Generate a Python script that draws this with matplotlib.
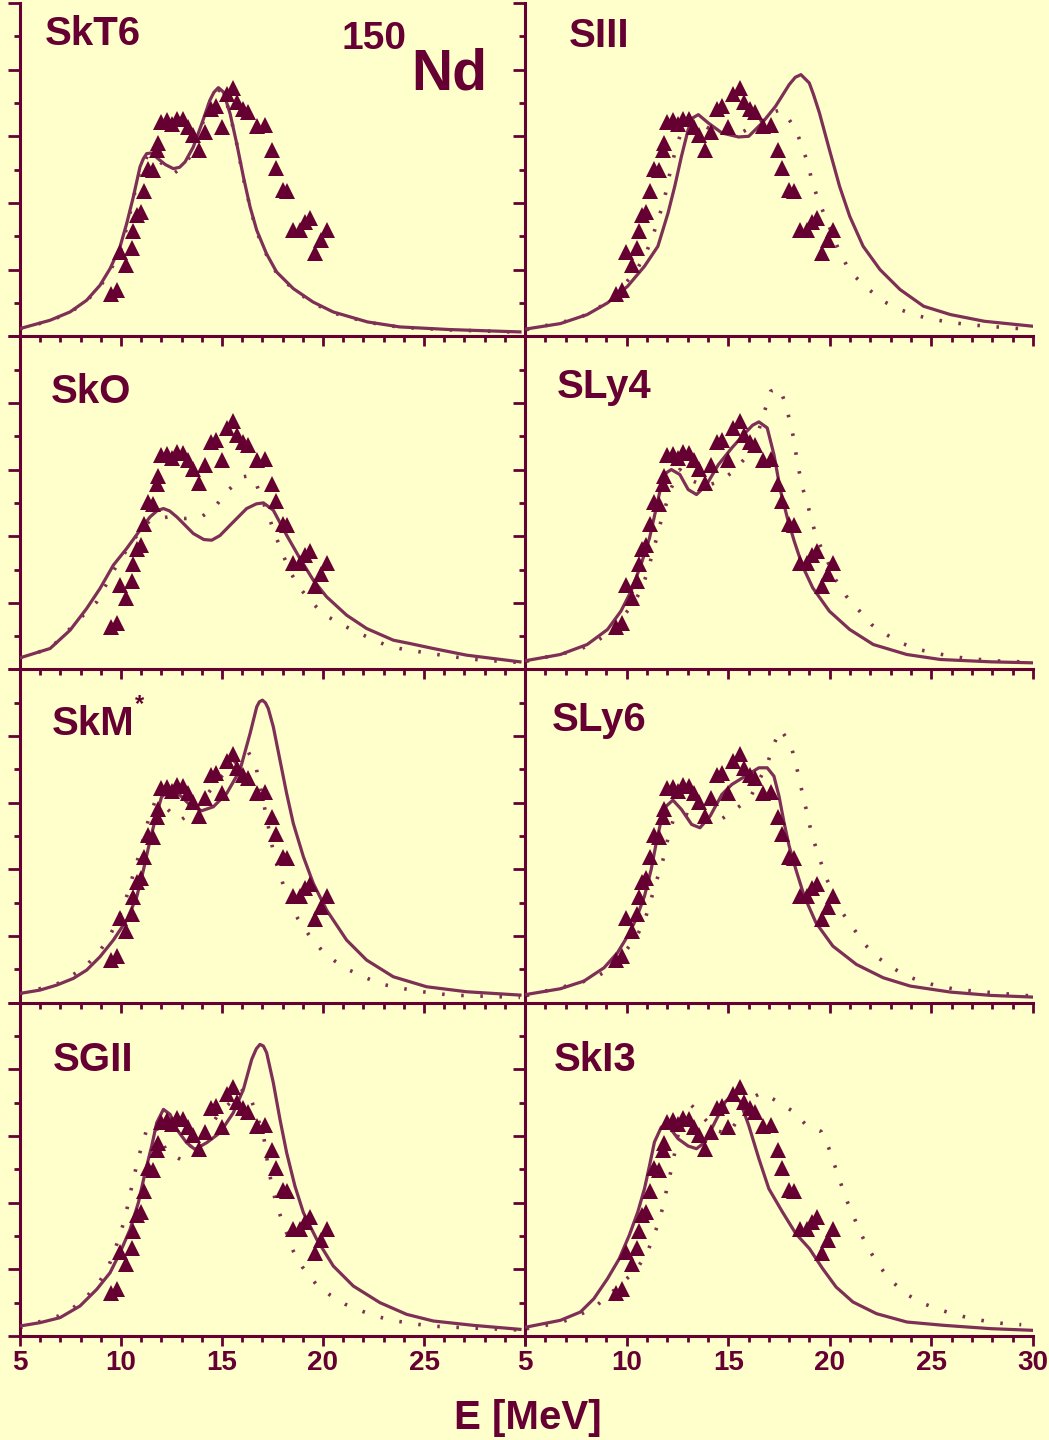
import numpy as np
import matplotlib
matplotlib.use('Agg')
import matplotlib.pyplot as plt
from matplotlib.ticker import MultipleLocator

plt.rcParams['font.family'] = ['Liberation Sans', 'DejaVu Sans']
plt.rcParams['font.weight'] = 'bold'

BG = '#ffffcc'
DARK = '#660033'
LINE = '#7d2f55'

# experiment (triangles), same in all panels
exp_e = [9.50, 9.79, 10.25, 9.95, 10.53, 10.61, 10.78, 10.97, 11.14, 11.35, 11.57, 11.77, 11.85,
         11.98, 12.26, 12.51, 12.79, 13.05, 13.33, 13.55, 13.86, 14.16, 14.44, 14.70, 14.98,
         15.23, 15.56, 15.76, 16.06, 16.30, 16.72, 17.13, 17.46, 17.67, 18.00, 18.23, 18.53,
         18.86, 19.11, 19.36, 19.60, 19.90, 20.18]
exp_v = [0.128, 0.14, 0.215, 0.253, 0.265, 0.316, 0.363, 0.373, 0.436, 0.503, 0.498, 0.558, 0.58,
         0.643, 0.648, 0.636, 0.653, 0.651, 0.628, 0.603, 0.56, 0.613, 0.683, 0.69, 0.628,
         0.726, 0.746, 0.703, 0.683, 0.673, 0.63, 0.633, 0.558, 0.505, 0.438, 0.435, 0.32,
         0.32, 0.343, 0.356, 0.25, 0.288, 0.32]

# SkT6
skt6_s_e = [5.0, 6.49, 7.48, 8.3, 8.96, 9.46, 9.95, 10.28, 10.61, 10.94, 11.1, 11.27, 11.5, 11.93,
            12.2, 12.59, 12.9, 13.17, 13.58, 14.0, 14.4, 14.6, 14.82, 15.07, 15.4, 15.73, 16.06,
            16.39, 16.72, 17.2, 17.7, 18.53, 19.5, 20.5, 22.2, 23.8, 26.3, 29.75]
skt6_s_v = [0.023, 0.048, 0.073, 0.108, 0.153, 0.203, 0.268, 0.338, 0.418, 0.508, 0.532, 0.548,
            0.55, 0.528, 0.515, 0.503, 0.507, 0.523, 0.568, 0.638, 0.708, 0.732, 0.746, 0.733,
            0.668, 0.578, 0.478, 0.388, 0.318, 0.248, 0.193, 0.143, 0.103, 0.073, 0.043, 0.028,
            0.02, 0.013]
skt6_d_e = [5.0, 6.5, 7.5, 8.3, 9.0, 9.5, 10.0, 10.3, 10.6, 10.95, 11.3, 11.5, 11.95, 12.6, 13.2,
            13.6, 14.0, 14.4, 14.8, 15.1, 15.4, 15.75, 16.05, 16.4, 16.7, 17.2, 17.7, 18.5, 19.5,
            20.5, 22.2, 23.8, 26.3, 29.75]
skt6_d_v = [0.022, 0.047, 0.072, 0.106, 0.152, 0.2, 0.262, 0.33, 0.41, 0.5, 0.54, 0.545, 0.522,
            0.488, 0.515, 0.562, 0.632, 0.705, 0.74, 0.728, 0.665, 0.572, 0.475, 0.385, 0.316,
            0.245, 0.19, 0.142, 0.1, 0.07, 0.042, 0.027, 0.019, 0.012]

# SIII
siii_s_e = [5.08, 6.74, 8.06, 9.06, 10.05, 10.88, 11.54, 12.04, 12.37, 12.7, 13.03, 13.25, 13.53,
            14.02, 14.69, 15.51, 16.01, 16.67, 17.33, 18.0, 18.3, 18.58, 18.99, 19.2, 19.49,
            19.98, 20.48, 20.98, 21.64, 22.47, 23.46, 24.62, 25.94, 27.6, 30.0]
siii_s_v = [0.022, 0.038, 0.065, 0.1, 0.15, 0.21, 0.27, 0.37, 0.45, 0.54, 0.62, 0.655, 0.665,
            0.64, 0.61, 0.598, 0.6, 0.64, 0.69, 0.755, 0.777, 0.785, 0.76, 0.725, 0.67,
            0.56, 0.45, 0.36, 0.27, 0.2, 0.14, 0.09, 0.065, 0.045, 0.03]
siii_d_e = [5.08, 7.57, 8.48, 9.22, 10.46, 10.96, 11.29, 11.54, 11.82, 11.99, 12.17, 12.37, 12.62,
            13.03, 13.53, 14.02, 14.69, 15.6, 16.42, 17.09, 17.6, 17.83, 18.33, 18.66, 18.94,
            19.12, 19.4, 19.73, 20.4, 20.81, 21.22, 21.97, 22.63, 23.46, 24.29, 25.12, 25.94,
            26.77, 28.43, 30.0]
siii_d_v = [0.02, 0.052, 0.08, 0.11, 0.195, 0.25, 0.3, 0.35, 0.4, 0.45, 0.5, 0.55, 0.6,
            0.64, 0.64, 0.625, 0.61, 0.61, 0.635, 0.67, 0.68, 0.665, 0.62, 0.565, 0.515,
            0.465, 0.415, 0.365, 0.265, 0.215, 0.18, 0.138, 0.105, 0.08, 0.062, 0.05, 0.042,
            0.035, 0.027, 0.02]

# SkO
sko_s_e = [5.0, 6.49, 7.48, 8.3, 8.96, 9.62, 10.28, 10.94, 11.44, 11.8, 12.1, 12.4, 12.76, 13.58,
           14.1, 14.49, 14.9, 15.4, 16.22, 16.7, 17.05, 17.54, 18.2, 18.86, 19.52, 20.18, 21.17,
           22.16, 23.48, 24.3, 25.46, 27.11, 29.75]
sko_s_v = [0.035, 0.063, 0.118, 0.183, 0.243, 0.313, 0.363, 0.418, 0.458, 0.477, 0.483, 0.476,
           0.458, 0.408, 0.39, 0.388, 0.402, 0.433, 0.483, 0.497, 0.5, 0.478, 0.403, 0.333,
           0.268, 0.218, 0.163, 0.123, 0.088, 0.078, 0.063, 0.043, 0.023]
sko_d_e = [5.0, 6.49, 8.8, 9.7, 10.53, 11.44, 12.34, 13.17, 13.99, 14.65, 15.31, 16.02, 16.4,
           16.72, 17.38, 17.67, 18.0, 18.33, 18.81, 19.41, 20.1, 20.84, 21.62, 22.38, 23.12,
           23.94, 24.8, 25.66, 26.49, 27.36, 28.18, 29.75]
sko_d_v = [0.035, 0.063, 0.203, 0.303, 0.383, 0.448, 0.458, 0.453, 0.458, 0.488, 0.538, 0.578,
           0.582, 0.553, 0.448, 0.398, 0.348, 0.298, 0.248, 0.203, 0.163, 0.138, 0.113, 0.093,
           0.073, 0.061, 0.053, 0.045, 0.038, 0.031, 0.027, 0.021]

# SLy4
sly4_s_e = [5.08, 6.74, 8.06, 9.06, 9.72, 10.22, 10.71, 11.13, 11.46, 11.71, 11.95, 12.2, 12.62,
            13.03, 13.44, 13.94, 14.52, 15.18, 15.84, 16.2, 16.51, 16.92, 17.25, 17.58, 17.91,
            18.25, 18.66, 19.16, 19.98, 20.98, 22.14, 23.79, 25.45, 27.93, 30.0]
sly4_s_v = [0.027, 0.045, 0.075, 0.12, 0.175, 0.235, 0.315, 0.395, 0.485, 0.555, 0.59, 0.6,
            0.585, 0.54, 0.525, 0.555, 0.615, 0.665, 0.71, 0.733, 0.743, 0.725, 0.645, 0.535,
            0.455, 0.385, 0.31, 0.245, 0.175, 0.12, 0.075, 0.045, 0.03, 0.023, 0.02]
sly4_d_e = [5.08, 7.57, 8.39, 9.14, 10.38, 10.79, 11.09, 11.29, 11.51, 11.71, 12.2, 12.62, 13.28,
            13.86, 14.6, 15.22, 15.88, 16.34, 16.84, 17.09, 17.53, 17.83, 18.03, 18.2, 18.33,
            18.49, 18.66, 18.91, 19.12, 19.35, 19.74, 20.28, 20.81, 21.47, 22.05, 22.72, 23.49,
            24.37, 25.12, 25.94, 26.77, 28.43, 30.0]
sly4_d_v = [0.025, 0.057, 0.08, 0.11, 0.2, 0.25, 0.305, 0.355, 0.4, 0.45, 0.545, 0.6, 0.565,
            0.55, 0.565, 0.593, 0.637, 0.685, 0.785, 0.835, 0.845, 0.795, 0.745, 0.7, 0.65,
            0.595, 0.545, 0.495, 0.445, 0.395, 0.345, 0.27, 0.22, 0.175, 0.135, 0.107, 0.08,
            0.06, 0.05, 0.04, 0.033, 0.025, 0.022]

# SkM*
skm_s_e = [5.0, 5.99, 6.82, 7.64, 8.3, 8.96, 9.62, 10.28, 10.78, 11.11, 11.44, 11.77, 12.01, 12.43,
           12.92, 13.42, 13.99, 14.57, 15.23, 15.89, 16.39, 16.72, 16.85, 17.0, 17.15, 17.29,
           17.54, 17.87, 18.2, 18.53, 19.03, 19.52, 20.18, 21.17, 22.16, 23.48, 25.13, 27.11,
           29.75]
skm_s_v = [0.028, 0.038, 0.053, 0.073, 0.098, 0.138, 0.188, 0.248, 0.318, 0.398, 0.488, 0.568,
           0.618, 0.638, 0.623, 0.593, 0.576, 0.588, 0.628, 0.698, 0.808, 0.888, 0.903, 0.908,
           0.9, 0.883, 0.828, 0.728, 0.628, 0.538, 0.438, 0.358, 0.278, 0.188, 0.128, 0.078,
           0.048, 0.033, 0.023]
skm_d_e = [5.0, 6.73, 7.48, 8.22, 8.93, 9.46, 9.87, 10.2, 10.45, 10.69, 10.94, 11.35, 11.68, 12.26,
           12.92, 13.58, 14.24, 14.74, 15.4, 15.89, 16.3, 16.68, 17.05, 17.54, 17.76, 18.04,
           18.75, 19.31, 19.93, 20.59, 21.3, 22.08, 22.87, 23.7, 24.52, 26.29, 29.75]
skm_d_v = [0.028, 0.053, 0.078, 0.108, 0.153, 0.203, 0.253, 0.303, 0.353, 0.403, 0.453, 0.548,
           0.603, 0.583, 0.546, 0.575, 0.623, 0.663, 0.708, 0.733, 0.753, 0.708, 0.603, 0.453,
           0.403, 0.353, 0.253, 0.203, 0.158, 0.125, 0.098, 0.076, 0.056, 0.046, 0.036, 0.023,
           0.016]

# SLy6
sly6_s_e = [5.08, 6.74, 7.9, 8.89, 9.55, 10.05, 10.46, 10.88, 11.21, 11.46, 11.71, 11.95, 12.28,
            12.7, 13.2, 13.61, 14.11, 14.69, 15.18, 15.84, 16.51, 16.92, 17.25, 17.5, 17.75, 18.0,
            18.33, 18.74, 19.32, 20.15, 21.31, 22.63, 23.96, 25.94, 27.93, 30.0]
sly6_s_v = [0.025, 0.042, 0.065, 0.105, 0.15, 0.2, 0.25, 0.32, 0.4, 0.48, 0.55, 0.59, 0.608,
            0.58, 0.535, 0.525, 0.56, 0.625, 0.655, 0.68, 0.705, 0.705, 0.68, 0.62, 0.54, 0.47,
            0.4, 0.32, 0.24, 0.17, 0.115, 0.075, 0.05, 0.032, 0.022, 0.017]
sly6_d_e = [5.08, 7.73, 8.56, 9.3, 10.46, 10.88, 11.13, 11.37, 11.62, 11.87, 12.04, 12.28, 12.7,
            13.69, 14.6, 15.35, 16.06, 16.92, 17.2, 17.58, 18.08, 18.29, 18.49, 18.66, 18.86,
            19.04, 19.27, 19.54, 19.82, 20.56, 21.14, 21.72, 22.38, 23.08, 23.79, 24.59, 25.36,
            26.23, 27.1, 30.0]
sly6_d_v = [0.022, 0.06, 0.08, 0.105, 0.195, 0.245, 0.295, 0.345, 0.395, 0.445, 0.495, 0.545, 0.57,
            0.55, 0.548, 0.58, 0.613, 0.715, 0.77, 0.82, 0.775, 0.725, 0.675, 0.625, 0.575,
            0.525, 0.475, 0.425, 0.375, 0.275, 0.225, 0.175, 0.135, 0.105, 0.08, 0.062, 0.05,
            0.04, 0.035, 0.02]

# SGII
sgii_s_e = [5.0, 5.99, 6.98, 7.97, 8.8, 9.46, 9.95, 10.45, 10.86, 11.19, 11.52, 11.77, 12.1, 12.43,
            12.76, 13.25, 13.66, 14.24, 14.9, 15.56, 16.06, 16.47, 16.7, 16.88, 17.05, 17.21,
            17.54, 17.87, 18.2, 18.61, 19.03, 19.69, 20.51, 21.5, 22.82, 24.14, 25.46, 27.44,
            29.75]
sgii_s_v = [0.03, 0.04, 0.055, 0.09, 0.14, 0.19, 0.25, 0.32, 0.4, 0.49, 0.57, 0.64, 0.68, 0.665,
            0.62, 0.58, 0.56, 0.58, 0.61, 0.67, 0.74, 0.83, 0.862, 0.875, 0.87, 0.85, 0.76, 0.65,
            0.55, 0.45, 0.37, 0.29, 0.21, 0.15, 0.1, 0.065, 0.045, 0.032, 0.02]
sgii_d_e = [5.0, 6.9, 7.64, 8.33, 8.93, 9.41, 9.72, 10.0, 10.23, 10.41, 10.58, 10.78, 10.99, 11.24,
            11.68, 12.26, 13.0, 13.5, 14.16, 14.82, 15.4, 16.06, 16.47, 17.05, 17.29, 17.46,
            17.64, 17.92, 18.53, 18.98, 19.64, 20.35, 21.11, 22.0, 22.77, 23.61, 25.26, 26.95,
            29.75]
sgii_d_v = [0.025, 0.06, 0.085, 0.12, 0.162, 0.213, 0.263, 0.313, 0.363, 0.413, 0.463, 0.513,
            0.563, 0.613, 0.635, 0.553, 0.528, 0.573, 0.605, 0.665, 0.7, 0.74, 0.705, 0.605,
            0.505, 0.455, 0.407, 0.355, 0.255, 0.207, 0.157, 0.123, 0.095, 0.073, 0.057, 0.045,
            0.03, 0.025, 0.018]

# SkI3
ski3_s_e = [5.08, 6.74, 7.73, 8.39, 9.06, 9.64, 10.13, 10.55, 10.88, 11.13, 11.37, 11.71, 12.04,
            12.53, 13.03, 13.44, 13.86, 14.35, 14.85, 15.26, 15.6, 16.01, 16.51, 17.0, 17.67,
            18.33, 19.0, 19.65, 20.31, 21.14, 22.3, 23.79, 25.61, 27.93, 30.0]
ski3_s_v = [0.027, 0.047, 0.072, 0.112, 0.172, 0.232, 0.302, 0.372, 0.442, 0.512, 0.582, 0.627,
            0.632, 0.592, 0.57, 0.562, 0.582, 0.642, 0.702, 0.727, 0.702, 0.632, 0.532, 0.442,
            0.372, 0.307, 0.262, 0.202, 0.147, 0.102, 0.067, 0.042, 0.032, 0.022, 0.017]
ski3_d_e = [5.08, 6.74, 7.65, 8.48, 9.14, 10.46, 11.01, 11.34, 11.62, 11.84, 12.0, 12.2, 12.37,
            12.62, 13.11, 13.69, 14.35, 15.02, 15.51, 16.09, 16.64, 17.42, 18.16, 18.86, 19.57,
            19.95, 20.23, 20.51, 20.78, 21.14, 21.47, 21.89, 22.38, 23.0, 23.74, 24.42, 25.25,
            26.03, 26.85, 27.73, 28.59, 29.42]
ski3_d_v = [0.022, 0.04, 0.062, 0.089, 0.124, 0.197, 0.25, 0.3, 0.35, 0.4, 0.449, 0.499, 0.55,
            0.632, 0.697, 0.662, 0.617, 0.607, 0.652, 0.712, 0.73, 0.704, 0.675, 0.632, 0.614,
            0.564, 0.514, 0.464, 0.414, 0.364, 0.314, 0.264, 0.214, 0.167, 0.127, 0.102, 0.082,
            0.067, 0.054, 0.044, 0.037, 0.034]

# name, row, col, curves, label position (axes fraction)
panels = [
    ('SkT6', 0, 0, skt6_s_e, skt6_s_v, skt6_d_e, skt6_d_v, 0.050, 0.874),
    ('SIII', 0, 1, siii_s_e, siii_s_v, siii_d_e, siii_d_v, 0.087, 0.868),
    ('SkO', 1, 0, sko_s_e, sko_s_v, sko_d_e, sko_d_v, 0.061, 0.800),
    ('SLy4', 1, 1, sly4_s_e, sly4_s_v, sly4_d_e, sly4_d_v, 0.063, 0.815),
    ('SkM', 2, 0, skm_s_e, skm_s_v, skm_d_e, skm_d_v, 0.063, 0.803),
    ('SLy6', 2, 1, sly6_s_e, sly6_s_v, sly6_d_e, sly6_d_v, 0.053, 0.815),
    ('SGII', 3, 0, sgii_s_e, sgii_s_v, sgii_d_e, sgii_d_v, 0.065, 0.795),
    ('SkI3', 3, 1, ski3_s_e, ski3_s_v, ski3_d_e, ski3_d_v, 0.057, 0.795),
]

W, H = 1049.0, 1440.0
fig = plt.figure(figsize=(W / 100, H / 100), dpi=100, facecolor=BG)
cols = [(20, 505), (525, 508)]
row_h = 333.25
row_top = 3.0

for name, r, c, se, sv, de, dv, lx, ly in panels:
    x0, w = cols[c]
    y_bot = row_top + row_h * (r + 1)
    ax = fig.add_axes([x0 / W, (H - y_bot) / H, w / W, row_h / H])
    ax.patch.set_visible(False)
    ax.plot(de, dv, color=LINE, lw=2.6, ls=(0, (0.7, 4.6)), zorder=2)
    ax.plot(se, sv, color=LINE, lw=2.3, zorder=3, solid_joinstyle='round')
    ax.plot(exp_e, exp_v, ls='none', marker='^', ms=11.5, mfc=DARK, mec=DARK, mew=0, zorder=4)
    ax.set_xlim(5, 30)
    ax.set_ylim(0, 1)
    for s in ['top', 'right']:
        ax.spines[s].set_visible(False)
    for s in ['left', 'bottom']:
        ax.spines[s].set_linewidth(2.2)
        ax.spines[s].set_color(DARK)
    ax.xaxis.set_major_locator(MultipleLocator(5))
    ax.xaxis.set_minor_locator(MultipleLocator(1))
    ax.yaxis.set_major_locator(MultipleLocator(0.2))
    ax.yaxis.set_minor_locator(MultipleLocator(0.1))
    ax.tick_params(which='major', direction='out', length=7, width=2, color=DARK,
                   labelsize=20, labelcolor=DARK, pad=3)
    ax.tick_params(which='minor', direction='out', length=4, width=2, color=DARK)
    ax.tick_params(axis='y', which='major', length=9)
    ax.set_yticklabels([])
    if r == 3:
        ax.set_xticks([5, 10, 15, 20, 25, 30])
        if c == 0:
            ax.set_xticklabels(['5', '10', '15', '20', '25', ''])
        else:
            ax.set_xticklabels(['5', '10', '15', '20', '25', '30'])
        for t in ax.get_xticklabels():
            t.set_fontweight('bold')
    else:
        ax.set_xticklabels([])
    ax.text(lx, ly, name, transform=ax.transAxes, fontsize=29, fontweight='bold',
            color=DARK, ha='left', va='baseline')
    if name == 'SkM':
        ax.text(0.236, 0.895, '*', transform=ax.transAxes, fontsize=17, fontweight='bold',
                color=DARK, ha='center', va='center')

# nucleus label
fig.text(342 / W, 1 - 49 / H, '150', fontsize=28, fontweight='bold', color=DARK,
         ha='left', va='baseline')
fig.text(411 / W, 1 - 89 / H, 'Nd', fontsize=41, fontweight='bold', color=DARK,
         ha='left', va='baseline')

fig.text(528 / W, 1 - 1429 / H, 'E [MeV]', fontsize=29, fontweight='bold', color=DARK,
         ha='center', va='baseline')

fig.savefig('out.png', dpi=100, facecolor=BG)
